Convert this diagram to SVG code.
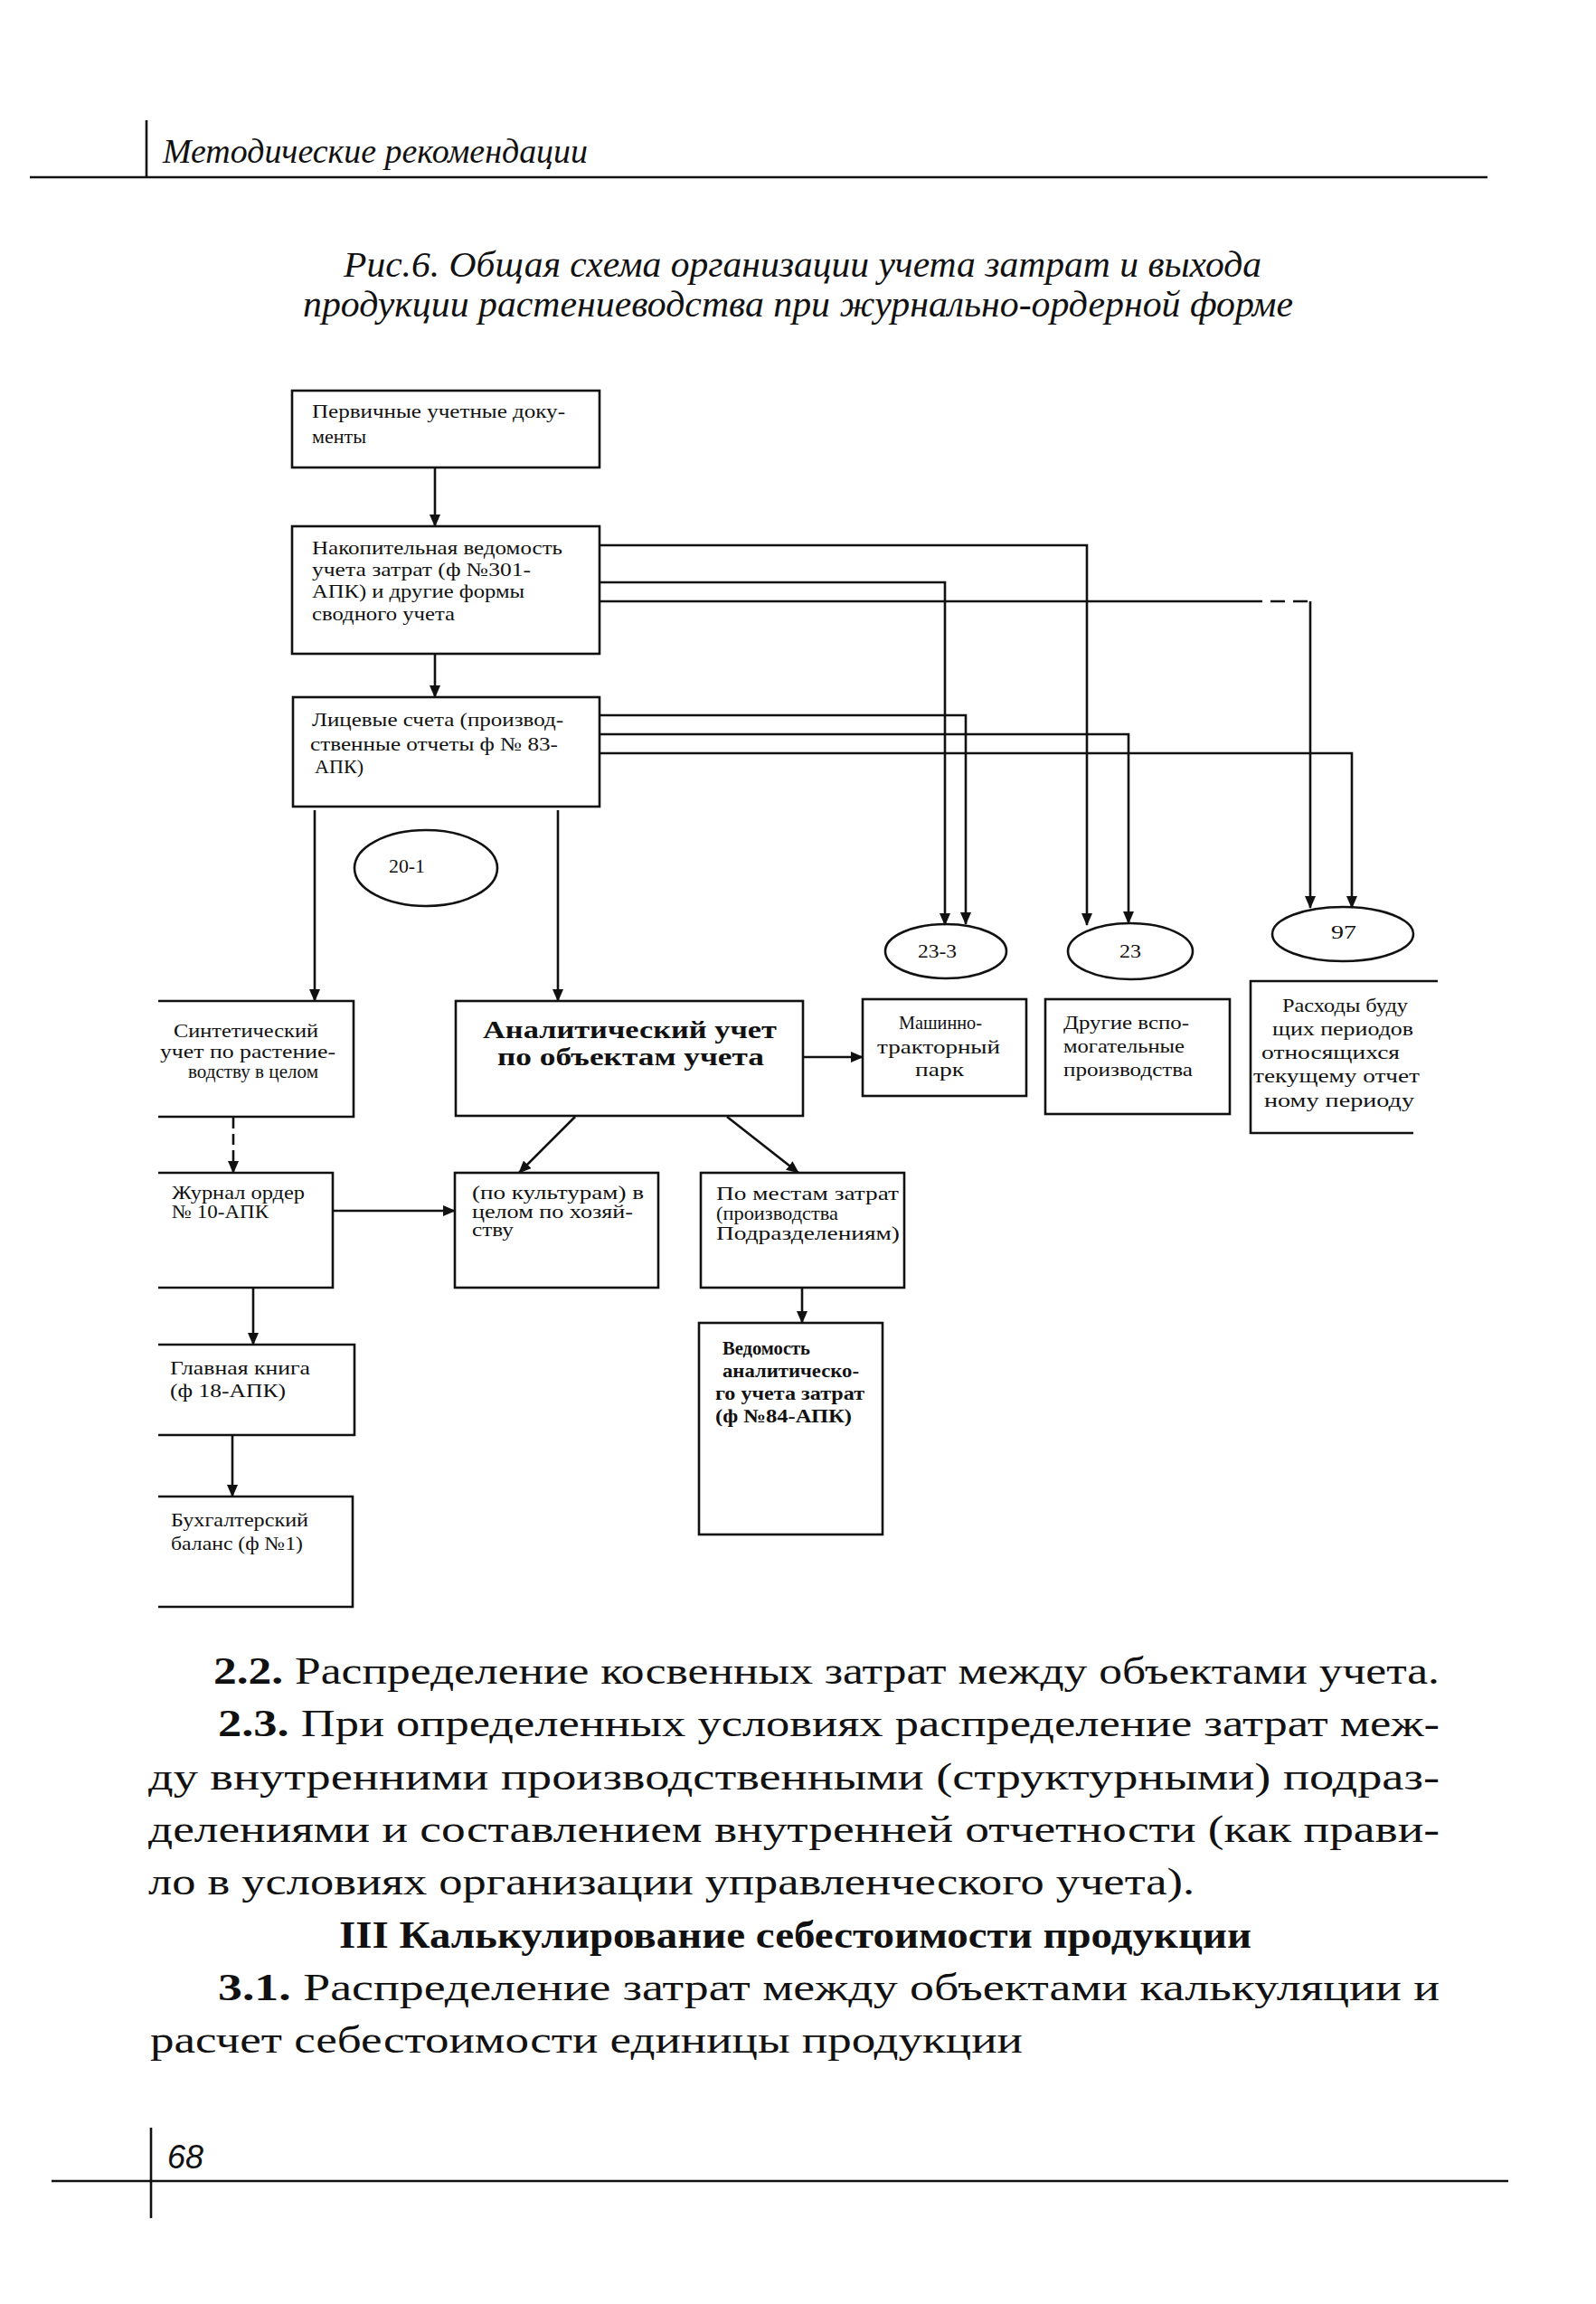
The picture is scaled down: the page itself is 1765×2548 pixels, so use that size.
<svg xmlns="http://www.w3.org/2000/svg" width="1765" height="2548" viewBox="0 0 1765 2548">
<defs>
<marker id="ah" markerUnits="userSpaceOnUse" markerWidth="14" markerHeight="12" refX="13" refY="6" orient="auto">
<path d="M0,0 L14,6 L0,12 z" fill="#111"/>
</marker>
<style>
.box{fill:none;stroke:#111;stroke-width:2.6}
.ln{fill:none;stroke:#111;stroke-width:2.6}
.arr{fill:none;stroke:#111;stroke-width:2.6;marker-end:url(#ah)}
.t{font-family:"Liberation Serif","Times New Roman",serif;font-size:21px;fill:#111}
.tb{font-family:"Liberation Serif","Times New Roman",serif;font-size:27px;font-weight:bold;fill:#111}
.bw{font-weight:bold}
.it{font-family:"Liberation Serif","Times New Roman",serif;font-style:italic;fill:#111}
.body{font-family:"Liberation Serif","Times New Roman",serif;font-size:42px;fill:#111}
.pg{font-family:"Liberation Sans",Arial,sans-serif;font-style:italic;font-size:36px;fill:#111}
</style>
</defs>
<rect width="1765" height="2548" fill="#fff"/>

<g id="page-header">
<line class="ln" x1="162" y1="133" x2="162" y2="197"/>
<line class="ln" x1="33" y1="196" x2="1645" y2="196"/>
<text class="it" x="180" y="180" font-size="37" textLength="470" lengthAdjust="spacingAndGlyphs">Методические рекомендации</text>
</g>

<g id="caption">
<text class="it" x="380" y="306" font-size="40" textLength="1015" lengthAdjust="spacingAndGlyphs">Рис.6. Общая схема организации учета затрат и выхода</text>
<text class="it" x="335" y="350" font-size="40" textLength="1095" lengthAdjust="spacingAndGlyphs">продукции растениеводства при журнально-ордерной форме</text>
</g>

<g id="connectors">
<line class="arr" x1="481" y1="517" x2="481" y2="582"/>
<line class="arr" x1="481" y1="723" x2="481" y2="771"/>
<polyline class="arr" points="663,603 1202,603 1202,1023"/>
<polyline class="arr" points="663,644 1045,644 1045,1023"/>
<polyline class="ln" points="663,665 1380,665"/>
<polyline class="ln" points="1380,665 1449,665" stroke-dasharray="16 9"/>
<line class="arr" x1="1449" y1="665" x2="1449" y2="1004"/>
<polyline class="arr" points="663,791 1068,791 1068,1022"/>
<polyline class="arr" points="663,812 1248,812 1248,1021"/>
<polyline class="arr" points="663,833 1495,833 1495,1004"/>
<line class="arr" x1="348" y1="896" x2="348" y2="1107"/>
<line class="arr" x1="617" y1="896" x2="617" y2="1107"/>
<line class="arr" x1="888" y1="1169" x2="954" y2="1169"/>
<line class="arr" x1="636" y1="1235" x2="574" y2="1297"/>
<line class="arr" x1="804" y1="1235" x2="883" y2="1297"/>
<line class="arr" x1="258" y1="1236" x2="258" y2="1297" stroke-dasharray="12 6"/>
<line class="arr" x1="368" y1="1339" x2="503" y2="1339"/>
<line class="arr" x1="280" y1="1424" x2="280" y2="1487"/>
<line class="arr" x1="257" y1="1588" x2="257" y2="1655"/>
<line class="arr" x1="887" y1="1424" x2="887" y2="1463"/>
</g>

<g id="n-primary">
<rect class="box" x="323" y="432" width="340" height="85"/>
<text class="t" x="345" y="462" textLength="280" lengthAdjust="spacingAndGlyphs">Первичные учетные доку-</text>
<text class="t" x="345" y="490" textLength="60" lengthAdjust="spacingAndGlyphs">менты</text>
</g>

<g id="n-accum">
<rect class="box" x="323" y="582" width="340" height="141"/>
<text class="t" x="345" y="613" textLength="277" lengthAdjust="spacingAndGlyphs">Накопительная ведомость</text>
<text class="t" x="345" y="637" textLength="242" lengthAdjust="spacingAndGlyphs">учета затрат (ф №301-</text>
<text class="t" x="345" y="661" textLength="235" lengthAdjust="spacingAndGlyphs">АПК) и другие формы</text>
<text class="t" x="345" y="686" textLength="158" lengthAdjust="spacingAndGlyphs">сводного учета</text>
</g>

<g id="n-personal">
<rect class="box" x="324" y="771" width="339" height="121"/>
<text class="t" x="345" y="803" textLength="278" lengthAdjust="spacingAndGlyphs">Лицевые счета (производ-</text>
<text class="t" x="343" y="830" textLength="274" lengthAdjust="spacingAndGlyphs">ственные отчеты ф № 83-</text>
<text class="t" x="348" y="855" textLength="54" lengthAdjust="spacingAndGlyphs">АПК)</text>
</g>

<g id="n-acc20">
<ellipse class="box" cx="471" cy="960" rx="79" ry="42"/>
<text class="t" x="430" y="965" textLength="40" lengthAdjust="spacingAndGlyphs">20-1</text>
</g>

<g id="n-acc233">
<ellipse class="box" cx="1046" cy="1052" rx="67" ry="30"/>
<text class="t" x="1015" y="1059" textLength="43" lengthAdjust="spacingAndGlyphs">23-3</text>
</g>

<g id="n-acc23">
<ellipse class="box" cx="1250" cy="1052" rx="69" ry="31"/>
<text class="t" x="1238" y="1059" textLength="24" lengthAdjust="spacingAndGlyphs">23</text>
</g>

<g id="n-acc97">
<ellipse class="box" cx="1485" cy="1033" rx="78" ry="30"/>
<text class="t" x="1472" y="1038" textLength="28" lengthAdjust="spacingAndGlyphs">97</text>
</g>

<g id="n-synthetic">
<path class="box" d="M175,1107 H391 V1235 H175"/>
<text class="t" x="192" y="1147" textLength="160" lengthAdjust="spacingAndGlyphs">Синтетический</text>
<text class="t" x="177" y="1170" textLength="194" lengthAdjust="spacingAndGlyphs">учет по растение-</text>
<text class="t" x="208" y="1192" textLength="144" lengthAdjust="spacingAndGlyphs">водству в целом</text>
</g>

<g id="n-analytic">
<rect class="box" x="504" y="1107" width="384" height="127"/>
<text class="tb" x="534" y="1148" textLength="325" lengthAdjust="spacingAndGlyphs">Аналитический учет</text>
<text class="tb" x="550" y="1178" textLength="295" lengthAdjust="spacingAndGlyphs">по объектам учета</text>
</g>

<g id="n-mtp">
<rect class="box" x="954" y="1105" width="181" height="107"/>
<text class="t" x="994" y="1138" textLength="92" lengthAdjust="spacingAndGlyphs">Машинно-</text>
<text class="t" x="970" y="1165" textLength="136" lengthAdjust="spacingAndGlyphs">тракторный</text>
<text class="t" x="1012" y="1190" textLength="54" lengthAdjust="spacingAndGlyphs">парк</text>
</g>

<g id="n-other">
<rect class="box" x="1156" y="1105" width="204" height="127"/>
<text class="t" x="1176" y="1138" textLength="139" lengthAdjust="spacingAndGlyphs">Другие вспо-</text>
<text class="t" x="1176" y="1164" textLength="134" lengthAdjust="spacingAndGlyphs">могательные</text>
<text class="t" x="1176" y="1190" textLength="143" lengthAdjust="spacingAndGlyphs">производства</text>
</g>

<g id="n-deferred">
<path class="box" d="M1590,1085 H1383 V1253 H1563"/>
<text class="t" x="1418" y="1119" textLength="139" lengthAdjust="spacingAndGlyphs">Расходы буду</text>
<text class="t" x="1407" y="1145" textLength="156" lengthAdjust="spacingAndGlyphs">щих периодов</text>
<text class="t" x="1395" y="1171" textLength="153" lengthAdjust="spacingAndGlyphs">относящихся</text>
<text class="t" x="1386" y="1197" textLength="184" lengthAdjust="spacingAndGlyphs">текущему отчет</text>
<text class="t" x="1398" y="1224" textLength="166" lengthAdjust="spacingAndGlyphs">ному периоду</text>
</g>

<g id="n-journal">
<path class="box" d="M175,1297 H368 V1424 H175"/>
<text class="t" x="190" y="1326" textLength="147" lengthAdjust="spacingAndGlyphs">Журнал ордер</text>
<text class="t" x="190" y="1347" textLength="107" lengthAdjust="spacingAndGlyphs">№ 10-АПК</text>
</g>

<g id="n-crops">
<rect class="box" x="503" y="1297" width="225" height="127"/>
<text class="t" x="522" y="1326" textLength="190" lengthAdjust="spacingAndGlyphs">(по культурам) в</text>
<text class="t" x="522" y="1347" textLength="178" lengthAdjust="spacingAndGlyphs">целом по хозяй-</text>
<text class="t" x="522" y="1367" textLength="46" lengthAdjust="spacingAndGlyphs">ству</text>
</g>

<g id="n-places">
<rect class="box" x="775" y="1297" width="225" height="127"/>
<text class="t" x="792" y="1327" textLength="202" lengthAdjust="spacingAndGlyphs">По местам затрат</text>
<text class="t" x="792" y="1349" textLength="135" lengthAdjust="spacingAndGlyphs">(производства</text>
<text class="t" x="792" y="1371" textLength="203" lengthAdjust="spacingAndGlyphs">Подразделениям)</text>
</g>

<g id="n-ledger">
<path class="box" d="M175,1487 H392 V1587 H175"/>
<text class="t" x="188" y="1520" textLength="155" lengthAdjust="spacingAndGlyphs">Главная книга</text>
<text class="t" x="188" y="1545" textLength="128" lengthAdjust="spacingAndGlyphs">(ф 18-АПК)</text>
</g>

<g id="n-balance">
<path class="box" d="M175,1655 H390 V1777 H175"/>
<text class="t" x="189" y="1688" textLength="152" lengthAdjust="spacingAndGlyphs">Бухгалтерский</text>
<text class="t" x="189" y="1714" textLength="146" lengthAdjust="spacingAndGlyphs">баланс (ф №1)</text>
</g>

<g id="n-statement">
<rect class="box" x="773" y="1463" width="203" height="234"/>
<text class="t bw" x="799" y="1498" textLength="97" lengthAdjust="spacingAndGlyphs">Ведомость</text>
<text class="t bw" x="799" y="1523" textLength="151" lengthAdjust="spacingAndGlyphs">аналитическо-</text>
<text class="t bw" x="791" y="1548" textLength="165" lengthAdjust="spacingAndGlyphs">го учета затрат</text>
<text class="t bw" x="791" y="1573" textLength="151" lengthAdjust="spacingAndGlyphs">(ф №84-АПК)</text>
</g>

<g id="body-text">
<text class="body" x="236" y="1862" textLength="1356" lengthAdjust="spacingAndGlyphs"><tspan class="bw">2.2.</tspan> Распределение косвенных затрат между объектами учета.</text>
<text class="body" x="241" y="1920" textLength="1351" lengthAdjust="spacingAndGlyphs"><tspan class="bw">2.3.</tspan> При определенных условиях распределение затрат меж-</text>
<text class="body" x="164" y="1979" textLength="1428" lengthAdjust="spacingAndGlyphs">ду внутренними производственными (структурными) подраз-</text>
<text class="body" x="164" y="2037" textLength="1428" lengthAdjust="spacingAndGlyphs">делениями и составлением внутренней отчетности (как прави-</text>
<text class="body" x="164" y="2095" textLength="1157" lengthAdjust="spacingAndGlyphs">ло в условиях организации управленческого учета).</text>
<text class="body bw" x="375" y="2154" textLength="1009" lengthAdjust="spacingAndGlyphs">III Калькулирование себестоимости продукции</text>
<text class="body" x="241" y="2212" textLength="1351" lengthAdjust="spacingAndGlyphs"><tspan class="bw">3.1.</tspan> Распределение затрат между объектами калькуляции и</text>
<text class="body" x="166" y="2270" textLength="965" lengthAdjust="spacingAndGlyphs">расчет себестоимости единицы продукции</text>
</g>

<g id="page-footer">
<line class="ln" x1="167" y1="2353" x2="167" y2="2453"/>
<line class="ln" x1="57" y1="2412" x2="1668" y2="2412"/>
<text class="pg" x="185" y="2398" textLength="40" lengthAdjust="spacingAndGlyphs">68</text>
</g>
</svg>
